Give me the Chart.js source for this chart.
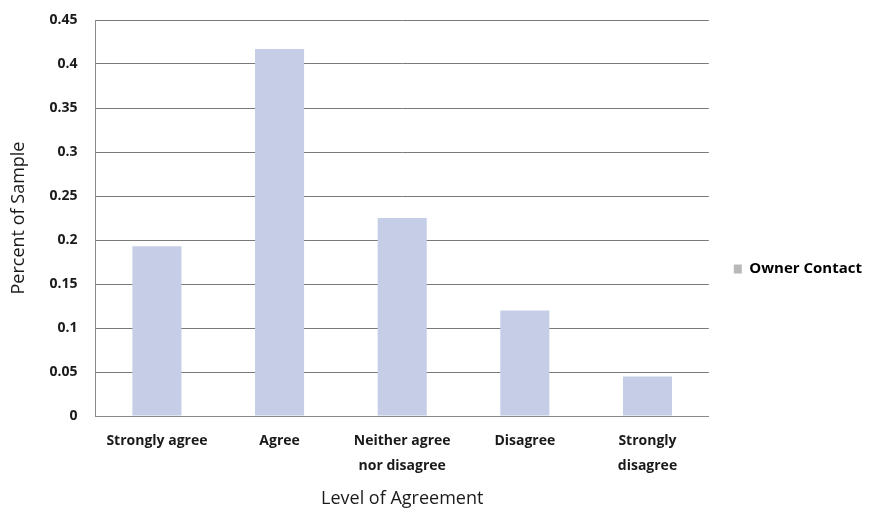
<!DOCTYPE html>
<html>
<head>
<meta charset="utf-8">
<script src="https://cdn.jsdelivr.net/npm/chart.js@4"></script>
<style>
html,body{margin:0;padding:0;background:#fff;}
#wrap{width:875px;height:512px;position:relative;}
</style>
</head>
<body>
<div id="wrap"><canvas id="c" width="875" height="512"></canvas></div>
<script>
const categories = [["Strongly agree"], ["Agree"], ["Neither agree", "nor disagree"], ["Disagree"], ["Strongly", "disagree"]];
const ownerContact = [0.193, 0.417, 0.225, 0.12, 0.045];
const yTicks = [0, 0.05, 0.1, 0.15, 0.2, 0.25, 0.3, 0.35, 0.4, 0.45];
const seriesName = "Owner Contact";
const xTitle = "Level of Agreement";
const yTitle = "Percent of Sample";

const legendShift = {
  id: 'legendShift',
  afterLayout(chart) {
    const l = chart.legend;
    const d = 14;
    if (l) { l.top += d; l.bottom += d; if (l.legendHitBoxes) l.legendHitBoxes.forEach(b => b.top += d); }
  }
};

new Chart(document.getElementById('c'), {
  type: 'bar',
  data: {
    labels: categories,
    datasets: [{
      label: seriesName,
      data: ownerContact,
      backgroundColor: '#c6cde6',
      borderWidth: 0,
      categoryPercentage: 1.0,
      barPercentage: 0.4
    }]
  },
  plugins: [legendShift],
  options: {
    responsive: false,
    animation: false,
    layout: { padding: { top: 0, right: 3, bottom: 2, left: 8 } },
    plugins: {
      legend: {
        position: 'right',
        labels: {
          boxWidth: 8, boxHeight: 9, color: '#1a1a1a',
          font: { family: 'Open Sans', size: 15, weight: 'bold' },
          padding: 25,
          generateLabels(chart) {
            return [{ text: seriesName, fillStyle: '#b8b8b8', strokeStyle: '#b8b8b8', lineWidth: 0, datasetIndex: 0 }];
          }
        }
      },
      tooltip: { enabled: false }
    },
    scales: {
      x: {
        grid: { display: false, drawTicks: false },
        border: { color: '#8a8a8a', width: 1 },
        ticks: { color: '#1a1a1a', font: { family: 'Open Sans', size: 14, weight: 'bold', lineHeight: 1.8 }, maxRotation: 0, autoSkip: false, padding: 12 },
        title: { display: true, text: xTitle, color: '#1a1a1a', font: { family: 'Open Sans', size: 18 }, padding: { top: -2, bottom: 0 } }
      },
      y: {
        min: 0, max: 0.45,
        afterBuildTicks(axis) { axis.ticks = yTicks.map(v => ({ value: v })); },
        afterFit(axis) { axis.paddingTop = 20; },
        grid: { color: '#7a7a7a', lineWidth: 1, drawTicks: false },
        border: { color: '#8a8a8a', width: 1 },
        ticks: { color: '#1a1a1a', font: { family: 'Open Sans', size: 14, weight: 'bold' }, padding: 18,
          callback: v => String(Math.round(v * 100) / 100) },
        title: { display: true, text: yTitle, color: '#1a1a1a', font: { family: 'Open Sans', size: 18 }, padding: { top: 0, bottom: 2 } }
      }
    }
  }
});
</script>
</body>
</html>
